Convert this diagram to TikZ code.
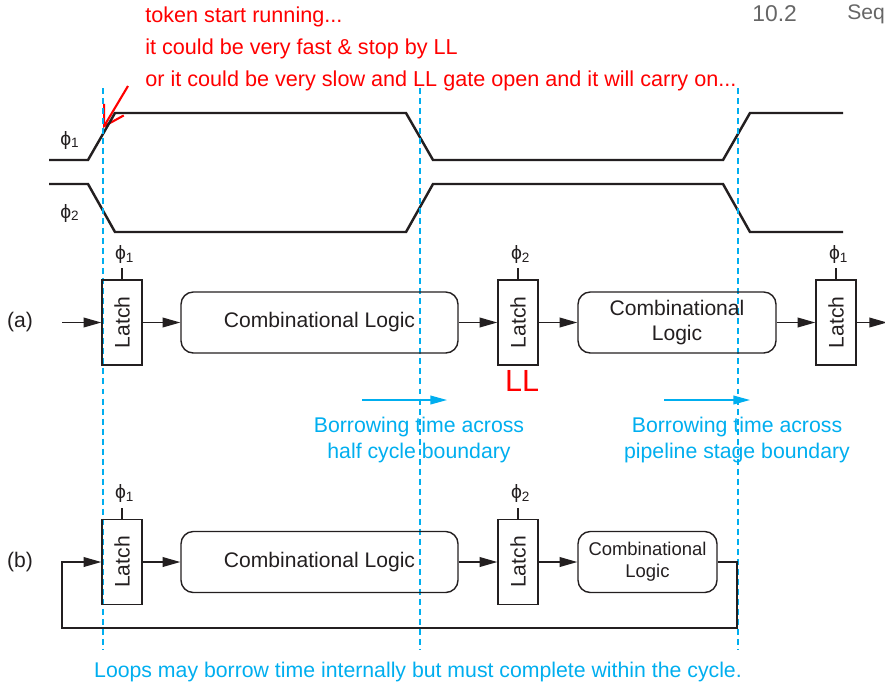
\documentclass[tikz,border=0pt]{standalone}
\usepackage{fontspec}
\setmainfont{Liberation Sans}
\usepackage{tikz}
\usetikzlibrary{positioning, arrows.meta}
\definecolor{borrowblue}{RGB}{0,174,239}
\definecolor{wavegray}{RGB}{35,31,32}
\tikzset{
  latch/.style={rectangle, draw=wavegray, line width=0.8pt, minimum width=0.8cm, minimum height=1.7cm, inner sep=0pt, text=wavegray, font=\fontsize{12}{14}\selectfont},
  comblogic/.style={rectangle, rounded corners=7pt, draw=wavegray, line width=0.8pt, minimum height=1.22cm, align=center, text=wavegray, font=\fontsize{12}{14.2}\selectfont},
  clk/.style={inner sep=1.5pt, text=wavegray, font=\fontsize{11}{12}\selectfont},
  wire/.style={-{Triangle[length=10pt,width=5.5pt]}, line width=0.8pt, draw=wavegray},
  clockwave/.style={line width=1.4pt, draw=wavegray, line join=miter},
  boundary/.style={borrowblue, line width=0.8pt, dash pattern=on 3.4pt off 2.3pt}
}
\begin{document}
\begin{tikzpicture}[
    note/.style={text=red, align=left, inner sep=0pt, font=\fontsize{12.3}{18}\selectfont},
    borrow/.style={text=borrowblue, align=center, inner sep=0pt, font=\fontsize{12.1}{14.7}\selectfont},
    borrowarrow/.style={-{Triangle[length=9.5pt,width=5pt]}, borrowblue, line width=0.8pt},
    tag/.style={text=wavegray, font=\fontsize{12}{14}\selectfont}
  ]
  \useasboundingbox (0,0) rectangle (17.7,-13.76);

  % Page header (cut at the edge)
  \node[anchor=west, inner sep=0pt, text=gray!80!black, font=\fontsize{13}{14}\selectfont] (secnum) at (15.04,-0.28) {10.2};
  \node[anchor=west, inner sep=0pt, text=gray!80!black, font=\fontsize{12}{14}\selectfont] (secname) at (16.94,-0.28) {Seq};

  % Red note
  \node[note, anchor=west] (note) at (2.9,-0.98) {token start running...\\it could be very fast \& stop by LL\\or it could be very slow and LL gate open and it will carry on...};
  \coordinate (notetail) at (2.56,-1.72);
  \coordinate (notetip) at (2.06,-2.56);
  \draw[red, line width=1.2pt, -{Straight Barb[length=11pt,width=13pt]}] (notetail) -- (notetip);

  % Clocks
  \draw[clockwave] (0.98,-3.2) -- (1.76,-3.2) -- (2.3,-2.26) -- (8.12,-2.26) -- (8.66,-3.2) -- (14.46,-3.2) -- (15.0,-2.26) -- (16.86,-2.26);
  \draw[clockwave] (0.98,-3.68) -- (1.76,-3.68) -- (2.3,-4.64) -- (8.12,-4.64) -- (8.66,-3.68) -- (14.46,-3.68) -- (15.0,-4.64) -- (16.86,-4.64);
  \node[clk] (phi1) at (1.4,-2.8) {ϕ\textsubscript{1}};
  \node[clk] (phi2) at (1.4,-4.26) {ϕ\textsubscript{2}};

  % Phase boundaries
  \foreach \x in {2.06, 8.4, 14.76}
    \draw[boundary] (\x,-1.76) -- (\x,-13.0);

  % ---------------- (a) ----------------
  \node[tag] (taga) at (0.4,-6.44) {(a)};
  \node[latch] (latchA1) at (2.44,-6.45) {\rotatebox{90}{Latch}};
  \node[comblogic, minimum width=5.54cm] (logicA1) at (6.39,-6.45) {Combinational Logic};
  \node[latch] (latchA2) at (10.36,-6.45) {\rotatebox{90}{Latch}};
  \node[comblogic, minimum width=3.96cm] (logicA2) at (13.54,-6.45) {Combinational\\Logic};
  \node[latch] (latchA3) at (16.72,-6.45) {\rotatebox{90}{Latch}};
  \node[text=red, font=\fontsize{17.4}{20}\selectfont] (ll) at (10.44,-7.62) {LL};

  \coordinate (inA) at (1.24,-6.45);
  \coordinate (outA) at (17.74,-6.45);
  \draw[wire] (inA) -- (latchA1);
  \draw[wire] (latchA1) -- (logicA1);
  \draw[wire] (logicA1) -- (latchA2);
  \draw[wire] (latchA2) -- (logicA2);
  \draw[wire] (logicA2) -- (latchA3);
  \draw[wire] (latchA3) -- (outA);

  % Time borrowing
  \coordinate (bhalfL) at (7.24,-8.0);
  \coordinate (bhalfR) at (8.94,-8.0);
  \coordinate (bpipeL) at (13.28,-8.0);
  \coordinate (bpipeR) at (15.0,-8.0);
  \draw[borrowarrow] (bhalfL) -- (bhalfR);
  \draw[borrowarrow] (bpipeL) -- (bpipeR);
  \node[borrow] (bhalf) at (8.38,-8.8) {Borrowing time across\\half cycle boundary};
  \node[borrow] (bpipe) at (14.74,-8.8) {Borrowing time across\\pipeline stage boundary};

  % ---------------- (b) ----------------
  \node[tag] (tagb) at (0.4,-11.24) {(b)};
  \node[latch] (latchB1) at (2.44,-11.24) {\rotatebox{90}{Latch}};
  \node[comblogic, minimum width=5.54cm] (logicB1) at (6.39,-11.24) {Combinational Logic};
  \node[latch] (latchB2) at (10.36,-11.24) {\rotatebox{90}{Latch}};
  \node[comblogic, minimum width=2.78cm, font=\fontsize{10.5}{12.5}\selectfont] (logicB2) at (12.95,-11.24) {Combinational\\Logic};

  \draw[wire] (latchB1) -- (logicB1);
  \draw[wire] (logicB1) -- (latchB2);
  \draw[wire] (latchB2) -- (logicB2);
  % loop back
  \coordinate (loopB) at (14.74,-12.56);
  \coordinate (loopin) at (1.24,-11.24);
  \draw[wire] (logicB2.east) -| (loopB) -| (loopin) -- (latchB1);

  % Clock inputs of the latches
  \foreach \l/\p in {latchA1/1, latchA2/2, latchA3/1, latchB1/1, latchB2/2} {
    \draw[line width=0.8pt, wavegray] (\l.north) -- ++(0,0.22);
    \node[clk, above=0.26cm of \l.north, xshift=1.5pt] (clk-\l) {ϕ\textsubscript{\p}};
  }

  \node[borrow] (loopnote) at (8.36,-13.44) {Loops may borrow time internally but must complete within the cycle.};
\end{tikzpicture}
\end{document}
